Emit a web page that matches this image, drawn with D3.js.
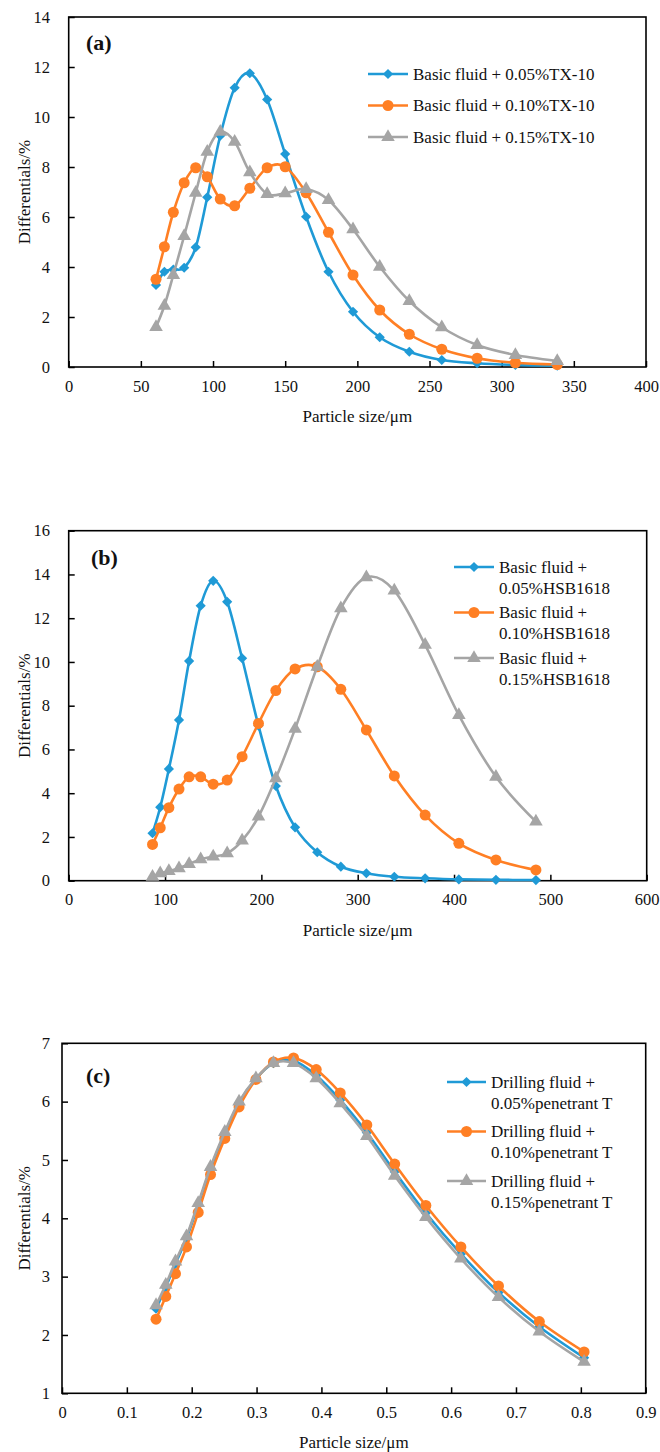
<!DOCTYPE html>
<html><head><meta charset="utf-8">
<script src="https://cdn.jsdelivr.net/npm/d3@7"></script>
<style>body{margin:0;background:#fff}svg{display:block}</style>
</head><body>
<script>
// ---------- DATA ----------
const sizesA = [60.5, 66.3, 72.5, 80.0, 88.0, 96.0, 105, 115, 125.5, 137.5, 150, 164.5, 180, 197, 215.5, 236, 258.5, 283, 309.5, 338.5];
const aBlue   = [3.28, 3.81, 3.90, 3.97, 4.79, 6.79, 9.25, 11.17, 11.75, 10.70, 8.52, 6.01, 3.81, 2.21, 1.19, 0.61, 0.28, 0.15, 0.08, 0.05];
const aOrange = [3.51, 4.81, 6.19, 7.37, 7.97, 7.61, 6.72, 6.45, 7.15, 7.97, 8.01, 6.97, 5.39, 3.68, 2.28, 1.31, 0.71, 0.35, 0.17, 0.10];
const aGray   = [1.60, 2.45, 3.68, 5.24, 6.97, 8.61, 9.41, 9.01, 7.79, 6.92, 6.95, 7.12, 6.68, 5.51, 4.01, 2.64, 1.59, 0.88, 0.48, 0.24];
const aLabels = [["Basic fluid + 0.05%TX-10"], ["Basic fluid + 0.10%TX-10"], ["Basic fluid + 0.15%TX-10"]];
const aXTicks = [0, 50, 100, 150, 200, 250, 300, 350, 400];
const aYTicks = [0, 2, 4, 6, 8, 10, 12, 14];

const sizesB = [87, 95, 104, 114.5, 125, 137, 150, 164.5, 180, 197, 215, 235, 258, 282.5, 309, 338, 370, 405, 443.5, 485];
const bBlue   = [2.17, 3.36, 5.11, 7.35, 10.04, 12.57, 13.71, 12.75, 10.17, 7.09, 4.33, 2.44, 1.30, 0.64, 0.34, 0.18, 0.11, 0.06, 0.04, 0.03];
const bOrange = [1.66, 2.42, 3.34, 4.19, 4.75, 4.75, 4.41, 4.60, 5.67, 7.19, 8.69, 9.68, 9.78, 8.75, 6.89, 4.79, 3.00, 1.71, 0.95, 0.49];
const bGray   = [0.18, 0.34, 0.44, 0.57, 0.76, 0.98, 1.10, 1.25, 1.83, 2.93, 4.68, 6.94, 9.78, 12.45, 13.87, 13.26, 10.78, 7.57, 4.75, 2.70];
const bLabels = [["Basic fluid +", "0.05%HSB1618"], ["Basic fluid +", "0.10%HSB1618"], ["Basic fluid +", "0.15%HSB1618"]];
const bXTicks = [0, 100, 200, 300, 400, 500, 600];
const bYTicks = [0, 2, 4, 6, 8, 10, 12, 14, 16];

const sizesC = [0.145, 0.160, 0.175, 0.192, 0.210, 0.229, 0.251, 0.273, 0.299, 0.326, 0.357, 0.392, 0.429, 0.470, 0.513, 0.561, 0.615, 0.673, 0.736, 0.805];
const cBlue   = [2.45, 2.82, 3.22, 3.66, 4.23, 4.85, 5.45, 5.98, 6.39, 6.66, 6.70, 6.45, 6.03, 5.47, 4.80, 4.09, 3.39, 2.73, 2.14, 1.61];
const cOrange = [2.27, 2.66, 3.05, 3.51, 4.10, 4.75, 5.37, 5.91, 6.38, 6.68, 6.75, 6.55, 6.15, 5.60, 4.93, 4.22, 3.51, 2.84, 2.23, 1.71];
const cGray   = [2.51, 2.86, 3.26, 3.69, 4.26, 4.88, 5.48, 6.00, 6.40, 6.66, 6.66, 6.40, 5.97, 5.41, 4.73, 4.02, 3.31, 2.65, 2.06, 1.54];
const cLabels = [["Drilling fluid +", "0.05%penetrant T"], ["Drilling fluid +", "0.10%penetrant T"], ["Drilling fluid +", "0.15%penetrant T"]];
const cXTicks = [0, 0.1, 0.2, 0.3, 0.4, 0.5, 0.6, 0.7, 0.8, 0.9];
const cYTicks = [1, 2, 3, 4, 5, 6, 7];

const colors = ["#1f9ad6", "#ff7f24", "#a5a5a5"];

// ---------- DRAW ----------
const W = 660, H = 1452;
const svg = d3.select("body").append("svg").attr("width", W).attr("height", H);
const FONT = "'Liberation Serif','Times New Roman',Times,serif";
const TICK_FS = 16.5, TEXT_FS = 17;

// square diamond (Excel style) via d3.symbol custom type
const squareDiamond = { draw(ctx, size) { const r = Math.sqrt(size / 2); ctx.moveTo(0, -r); ctx.lineTo(r, 0); ctx.lineTo(0, r); ctx.lineTo(-r, 0); ctx.closePath(); } };
const symbols = [squareDiamond, d3.symbolCircle, d3.symbolTriangle];
function symPath(i) {
  const sizes = [52, 95, 80];
  return d3.symbol().type(symbols[i]).size(sizes[i])();
}

function panel(cfg) {
  const { left, top, right, bottom, xDom, yDom, xTicks, yTicks, xs, series, labels, tag, legend, xfmt } = cfg;
  const g = svg.append("g");
  const x = d3.scaleLinear().domain(xDom).range([left, right]);
  const y = d3.scaleLinear().domain(yDom).range([bottom, top]);

  const xAxis = d3.axisBottom(x).tickValues(xTicks).tickSize(-6).tickPadding(13).tickFormat(xfmt || d3.format("d"));
  const yAxis = d3.axisLeft(y).tickValues(yTicks).tickSize(-6).tickPadding(10).tickFormat(d3.format("d"));
  const gx = g.append("g").attr("transform", `translate(0,${bottom})`).call(xAxis);
  const gy = g.append("g").attr("transform", `translate(${left},0)`).call(yAxis);
  [gx, gy].forEach(a => {
    a.attr("font-family", null).attr("font-size", null);
    a.select(".domain").remove();
    a.selectAll("line").attr("stroke", "#000").attr("stroke-width", 1.5);
    a.selectAll("text").attr("font-family", FONT).attr("font-size", TICK_FS).attr("fill", "#111");
  });
  gy.selectAll(".tick text").attr("text-anchor", "end").attr("x", 50 - left);
  g.append("rect").attr("x", left).attr("y", top).attr("width", right - left).attr("height", bottom - top)
    .attr("fill", "none").attr("stroke", "#000").attr("stroke-width", 1.6);

  g.append("text").attr("x", (left + right) / 2).attr("y", bottom + 55)
    .attr("text-anchor", "middle").attr("font-family", FONT).attr("font-size", TEXT_FS).attr("fill", "#111")
    .text("Particle size/μm");
  g.append("text").attr("transform", `translate(30,${(top + bottom) / 2}) rotate(-90)`)
    .attr("text-anchor", "middle").attr("font-family", FONT).attr("font-size", TEXT_FS).attr("fill", "#111")
    .text("Differentials/%");

  g.append("text").attr("x", tag.x).attr("y", tag.y).attr("font-family", FONT).attr("font-weight", "bold")
    .attr("font-size", 22).attr("fill", "#111").text(tag.t);

  const line = d3.line().x(d => x(d[0])).y(d => y(d[1])).curve(d3.curveCatmullRom.alpha(0));
  series.forEach((vals, i) => {
    const pts = xs.map((v, j) => [v, vals[j]]);
    g.append("path").attr("d", line(pts)).attr("fill", "none").attr("stroke", colors[i]).attr("stroke-width", 2.6);
    g.selectAll(null).data(pts).enter().append("path")
      .attr("d", symPath(i)).attr("fill", colors[i])
      .attr("transform", d => `translate(${x(d[0])},${y(d[1])})`);
  });

  labels.forEach((lab, i) => {
    const ly = legend.y0 + i * legend.dy;
    g.append("line").attr("x1", legend.x1).attr("x2", legend.x2).attr("y1", ly).attr("y2", ly)
      .attr("stroke", colors[i]).attr("stroke-width", 2.6);
    g.append("path").attr("d", symPath(i)).attr("fill", colors[i])
      .attr("transform", `translate(${(legend.x1 + legend.x2) / 2},${ly})`);
    lab.forEach((t, k) => {
      g.append("text").attr("x", legend.tx).attr("y", ly + k * legend.lh).attr("dy", "0.35em")
        .attr("font-family", FONT).attr("font-size", TEXT_FS).attr("fill", "#111").text(t);
    });
  });
}

panel({
  left: 68.7, top: 17, right: 646, bottom: 367,
  xDom: [0, 400], yDom: [0, 14], xTicks: aXTicks, yTicks: aYTicks,
  xs: sizesA, series: [aBlue, aOrange, aGray], labels: aLabels,
  tag: { x: 86, y: 50, t: "(a)" },
  legend: { x1: 368, x2: 408, tx: 413, y0: 74, dy: 31.5, lh: 0 }
});
panel({
  left: 68.7, top: 530.7, right: 646.7, bottom: 880.7,
  xDom: [0, 600], yDom: [0, 16], xTicks: bXTicks, yTicks: bYTicks,
  xs: sizesB, series: [bBlue, bOrange, bGray], labels: bLabels,
  tag: { x: 91, y: 565, t: "(b)" },
  legend: { x1: 454, x2: 494, tx: 499, y0: 567, dy: 45.5, lh: 21 }
});
panel({
  left: 62, top: 1043.3, right: 645.7, bottom: 1393.3,
  xDom: [0, 0.9], yDom: [1, 7], xTicks: cXTicks, yTicks: cYTicks,
  xs: sizesC, series: [cBlue, cOrange, cGray], labels: cLabels,
  tag: { x: 86, y: 1083, t: "(c)" },
  legend: { x1: 447, x2: 486, tx: 491, y0: 1082, dy: 49.5, lh: 21 },
  xfmt: d => d === 0 ? "0" : d3.format(".1f")(d)
});
</script>
</body></html>
